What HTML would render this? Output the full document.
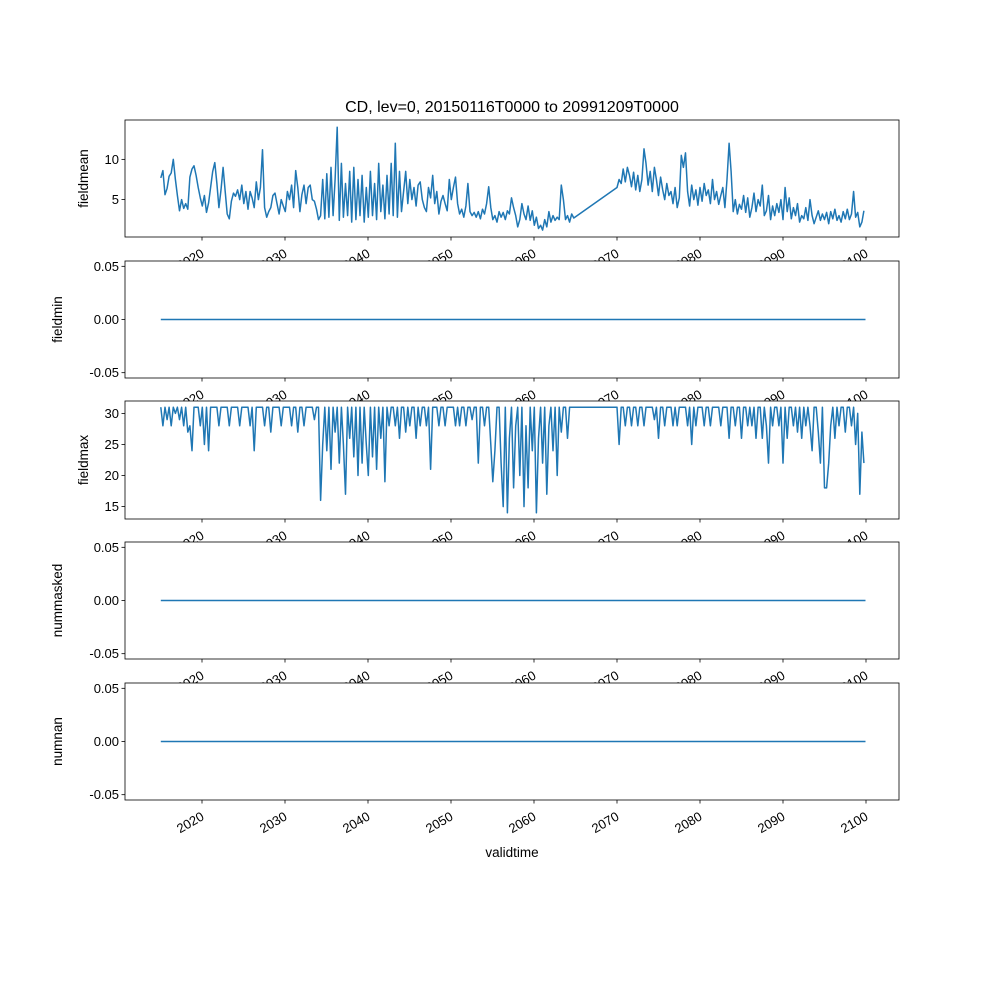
<!DOCTYPE html>
<html><head><meta charset="utf-8"><style>body{margin:0;background:#fff}svg{display:block;font-family:"Liberation Sans","DejaVu Sans",sans-serif}</style></head>
<body>
<svg id="fig" width="1000" height="1000" viewBox="0 0 1000 1000" xmlns="http://www.w3.org/2000/svg">
<rect width="1000" height="1000" fill="#fff"/>
<text x="512" y="112" font-size="16" text-anchor="middle">CD, lev=0, 20150116T0000 to 20991209T0000</text>
<text x="512" y="857" font-size="13.5" text-anchor="middle">validtime</text>
</svg>
<script>
const xTickYears = [2020,2030,2040,2050,2060,2070,2080,2090,2100];
const seg1Start = 2015.04, seg2Start = 2070.0, step = 0.25;
const fieldmean1 = [
7.7,8.6,5.6,6.4, 7.9,8.3,10.0,7.5, 5.5,3.6,5.0,3.9, 4.5,3.8,7.8,8.8, 9.2,8.0,6.5,5.2,
4.2,5.5,3.4,4.6, 6.5,8.5,9.6,7.0, 4.0,6.2,9.0,6.0, 3.2,2.6,4.8,5.8, 5.4,6.2,5.0,6.8,
4.5,6.0,3.8,6.0, 5.2,4.0,7.2,5.0, 6.5,11.2,4.0,2.8, 3.5,4.0,5.5,5.8, 4.5,3.2,5.0,4.2,
3.5,6.0,5.0,6.8, 4.0,8.6,6.5,3.5, 5.6,6.8,4.5,6.5, 6.8,5.0,4.8,3.8, 2.5,3.0,7.5,2.6,
8.2,2.8,9.0,3.0, 7.5,14.0,2.4,9.5, 2.8,7.0,3.0,8.5, 2.2,9.0,2.5,7.5, 3.0,8.0,2.2,6.5,
2.8,8.5,3.0,7.0, 2.5,9.5,3.5,6.8, 2.6,8.0,3.2,9.5, 3.0,12.0,2.8,8.5, 3.5,6.0,8.5,4.5,
7.5,5.0,6.5,4.2, 6.8,7.2,5.0,4.0, 3.5,6.5,5.2,8.0, 4.5,6.0,3.2,4.8, 5.5,4.5,3.6,7.5,
5.0,6.5,7.8,4.5, 3.2,3.8,2.8,4.2, 7.0,3.5,3.0,3.4, 2.8,3.5,2.6,3.8, 3.2,4.5,6.6,4.0,
2.5,3.0,2.2,3.5, 2.8,3.4,2.5,3.6, 3.2,5.2,4.0,3.0, 1.6,2.5,4.5,3.2, 2.5,4.2,2.4,3.6,
1.8,2.8,1.4,1.8, 1.2,2.5,1.6,3.5, 2.2,3.0,2.4,2.8, 2.5,6.8,5.0,2.5, 3.0,2.2,3.2,2.7];
const fieldmean2 = [
6.5,7.5,7.0,8.8, 7.2,9.0,8.0,6.6, 8.4,6.2,8.0,6.0, 7.5,11.3,9.5,6.8, 8.5,6.0,9.0,7.5,
5.5,7.8,6.2,5.0, 7.0,5.5,6.0,4.5, 6.5,4.0,5.2,10.5, 9.0,10.8,6.0,4.2, 6.8,5.0,6.2,4.3,
6.5,4.8,7.0,5.5, 6.2,4.5,7.5,5.0, 6.0,4.4,5.5,6.5, 4.0,7.5,12.0,8.5, 3.5,5.0,3.2,4.4,
3.8,5.5,3.4,5.2, 2.8,4.0,5.8,3.5, 5.0,4.2,6.8,3.0, 3.6,5.5,2.5,4.2, 3.0,4.5,3.4,5.0,
2.5,6.5,3.5,5.2, 2.6,4.0,3.0,4.5, 2.2,3.0,2.6,4.0, 2.4,5.0,3.0,2.0, 2.8,3.6,2.4,3.2,
2.5,3.4,2.0,3.5, 2.6,3.8,2.4,3.0, 2.2,3.5,2.6,3.8, 2.5,3.2,6.0,2.8, 3.4,1.6,2.2,3.6];
const fieldmax1 = [
31,28,31,29, 31,28,31,30, 31,29,31,28, 31,27,28,24, 31,31,31,28,
31,25,31,24, 31,31,31,31, 28,31,31,31, 31,28,31,31, 31,31,28,31,
31,31,31,28, 31,24,31,31, 31,31,28,31, 31,27,31,31, 31,31,28,31,
31,31,31,28, 31,31,27,31, 31,28,31,31, 31,31,29,31, 31,16,25,31,
24,31,21,31, 27,31,22,31, 25,17,31,26, 31,23,31,20, 31,22,31,25,
20,31,23,31, 21,31,26,31, 19,31,28,31, 31,28,31,26, 31,31,27,31,
28,31,31,26, 31,28,31,31, 28,31,21,31, 31,31,28,31, 31,28,31,31,
31,31,28,31, 28,31,31,28, 31,31,29,31, 31,22,31,31, 28,31,31,25,
19,24,31,31, 22,15,31,14, 26,31,18,28, 31,20,31,15, 28,18,31,24,
31,14,26,31, 22,31,17,28, 31,24,31,20, 31,27,31,31, 26,31,31,31];
const fieldmax2 = [
31,25,31,31, 28,31,31,28, 31,31,28,31, 31,28,31,31, 31,31,29,31,
26,31,31,28, 31,31,31,28, 31,28,31,31, 31,31,28,31, 25,31,28,31,
31,31,28,31, 31,28,31,31, 31,31,28,31, 31,31,26,31, 31,28,31,31,
26,31,31,28, 31,28,31,26, 31,31,26,31, 28,22,31,28, 31,31,28,31,
22,31,26,31, 31,28,31,27, 31,26,31,28, 31,28,24,31, 31,27,22,31,
18,18,22,28, 31,26,31,28, 31,31,27,31, 31,28,31,25, 30,17,27,22];
const zeroStart = 2015.04, zeroEnd = 2099.94;
const yTicksMean = [5,10], yTicksMax = [15,20,25,30], yTicksZero = [-0.05,0.00,0.05];

const NS = "http://www.w3.org/2000/svg";
const svg = document.getElementById('fig');
const X0 = 125, X1 = 899;
function xScale(yr){ return 202 + (yr - 2020) * 8.3; }
function mk(tag, attrs, parent){ const e=document.createElementNS(NS,tag); for(const k in attrs) e.setAttribute(k,attrs[k]); (parent||svg).appendChild(e); return e; }
function times(start,n){ const t=[]; for(let i=0;i<n;i++) t.push(start+i*step); return t; }

const panels = [
 {name:'fieldmean', top:120, bot:237, ymin:0.34, ymax:14.9, ticks:yTicksMean, fmt:v=>String(v), labX:88, type:'mean'},
 {name:'fieldmin', top:261, bot:378, ymin:-0.055, ymax:0.055, ticks:yTicksZero, fmt:v=>v.toFixed(2), labX:62, type:'zero'},
 {name:'fieldmax', top:401, bot:519, ymin:13.0, ymax:32.0, ticks:yTicksMax, fmt:v=>String(v), labX:88, type:'max'},
 {name:'nummasked', top:542, bot:659, ymin:-0.055, ymax:0.055, ticks:yTicksZero, fmt:v=>v.toFixed(2), labX:62, type:'zero'},
 {name:'numnan', top:683, bot:800, ymin:-0.055, ymax:0.055, ticks:yTicksZero, fmt:v=>v.toFixed(2), labX:62, type:'zero'}
];

panels.forEach(p=>{
  const g = mk('g',{});
  
  
  const ys = v => p.bot - (v - p.ymin)/(p.ymax - p.ymin)*(p.bot - p.top);
  mk('rect',{x:X0,y:p.top,width:X1-X0,height:p.bot-p.top,fill:'#fff'},g);
  let pts = [];
  if(p.type==='mean'){
    const t1=times(seg1Start,fieldmean1.length), t2=times(seg2Start,fieldmean2.length);
    fieldmean1.forEach((v,i)=>pts.push([xScale(t1[i]),ys(v)]));
    fieldmean2.forEach((v,i)=>pts.push([xScale(t2[i]),ys(v)]));
  } else if(p.type==='max'){
    const t1=times(seg1Start,fieldmax1.length), t2=times(seg2Start,fieldmax2.length);
    fieldmax1.forEach((v,i)=>pts.push([xScale(t1[i]),ys(v)]));
    fieldmax2.forEach((v,i)=>pts.push([xScale(t2[i]),ys(v)]));
  } else {
    pts=[[xScale(zeroStart),ys(0)],[xScale(zeroEnd),ys(0)]];
  }
  const line = mk('polyline',{points:pts.map(q=>q[0].toFixed(1)+','+q[1].toFixed(1)).join(' '),fill:'none',stroke:'#1f77b4','stroke-width':1.5,'stroke-linejoin':'round'},g);
  
  
  mk('rect',{x:X0,y:p.top,width:X1-X0,height:p.bot-p.top,fill:'none',stroke:'#000','stroke-width':0.8},g);
  p.ticks.forEach(v=>{
    const y=ys(v);
    mk('line',{x1:X0-3.5,x2:X0,y1:y,y2:y,stroke:'#000','stroke-width':0.8},g);
    const t=mk('text',{x:X0-6,y:y+4.5,'font-size':13,'text-anchor':'end'},g);
    t.textContent=p.fmt(v);
    
    
  });
  xTickYears.forEach(yr=>{
    const x=xScale(yr);
    mk('line',{x1:x,x2:x,y1:p.bot,y2:p.bot+3.5,stroke:'#000','stroke-width':0.8},g);
    const ax=x+3, ay=p.bot+19;
    const t=mk('text',{x:ax,y:ay,'font-size':13,'text-anchor':'end',transform:'rotate(-30 '+ax+' '+ay+')'},g);
    t.textContent=String(yr);
    
    
  });
  const cy=(p.top+p.bot)/2;
  const yl=mk('text',{x:p.labX,y:cy,'font-size':13.5,'text-anchor':'middle',transform:'rotate(-90 '+p.labX+' '+cy+')'},g);
  yl.textContent=p.name;
  
  
});
</script>
</body></html>
